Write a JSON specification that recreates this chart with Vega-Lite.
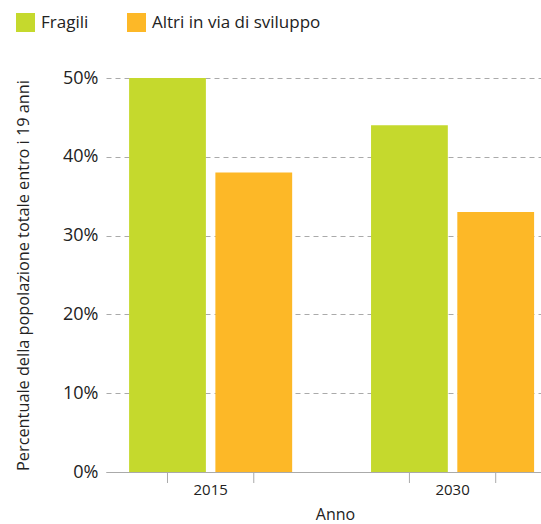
{
  "$schema": "https://vega.github.io/schema/vega-lite/v6.json",
  "width": 435,
  "height": 394,
  "padding": {"left": 106, "top": 78, "right": 0, "bottom": 52},
  "autosize": {"type": "none"},
  "config": {
    "font": "Open Sans",
    "view": {"stroke": null}
  },
  "data": {
    "values": [
      {"anno": "2015", "gruppo": "Fragili", "valore": 0.50},
      {"anno": "2015", "gruppo": "Altri in via di sviluppo", "valore": 0.38},
      {"anno": "2030", "gruppo": "Fragili", "valore": 0.44},
      {"anno": "2030", "gruppo": "Altri in via di sviluppo", "valore": 0.33}
    ]
  },
  "resolve": {"axis": {"y": "independent"}},
  "encoding": {
    "x": {
      "field": "anno",
      "type": "nominal",
      "scale": {"paddingInner": 0.326, "paddingOuter": 0.062, "align": 0.77},
      "axis": {
        "title": "Anno",
        "labelAngle": 0,
        "ticks": false,
        "labelPadding": 10,
        "labelFontSize": 15,
        "labelColor": "#222",
        "titleFontSize": 16,
        "titleFontWeight": "normal",
        "titleColor": "#222",
        "titlePadding": 9,
        "titleX": 229,
        "domainColor": "#aaaaaa",
        "grid": false
      }
    },
    "xOffset": {
      "field": "gruppo",
      "type": "nominal",
      "sort": ["Fragili", "Altri in via di sviluppo"],
      "scale": {"paddingInner": 0.11, "paddingOuter": 0}
    }
  },
  "layer": [
    {
      "mark": {"type": "bar"},
      "encoding": {
        "y": {
          "field": "valore",
          "type": "quantitative",
          "scale": {"domain": [0, 0.5]},
          "axis": {
            "format": "%",
            "values": [0, 0.1, 0.2, 0.3, 0.4, 0.5],
            "labelOverlap": false,
            "domain": false,
            "ticks": false,
            "labelPadding": 8,
            "labelFontSize": 18,
            "labelColor": "#222",
            "gridColor": "#aaaaaa",
            "gridDash": [5, 4],
            "title": "Percentuale della popolazione totale entro i 19 anni",
            "titleFontSize": 16.3,
            "titleFontWeight": "normal",
            "titleColor": "#222",
            "titlePadding": 31
          }
        },
        "color": {
          "field": "gruppo",
          "type": "nominal",
          "sort": ["Fragili", "Altri in via di sviluppo"],
          "scale": {"domain": ["Fragili", "Altri in via di sviluppo"], "range": ["#c5d92d", "#fdb827"]},
          "legend": {
            "title": null,
            "orient": "none",
            "legendX": -90,
            "legendY": -65,
            "direction": "horizontal",
            "symbolType": "square",
            "symbolSize": 361,
            "symbolStrokeWidth": 0,
            "symbolOpacity": 1,
            "labelFontSize": 17,
            "labelLimit": 400,
            "labelColor": "#222",
            "labelOffset": 6,
            "columnPadding": 38
          }
        }
      }
    },
    {
      "mark": {"type": "rule", "color": "#aaaaaa", "y2Offset": 11},
      "encoding": {
        "y": {"datum": 0, "type": "quantitative", "axis": null},
        "y2": {"datum": 0}
      }
    }
  ]
}
